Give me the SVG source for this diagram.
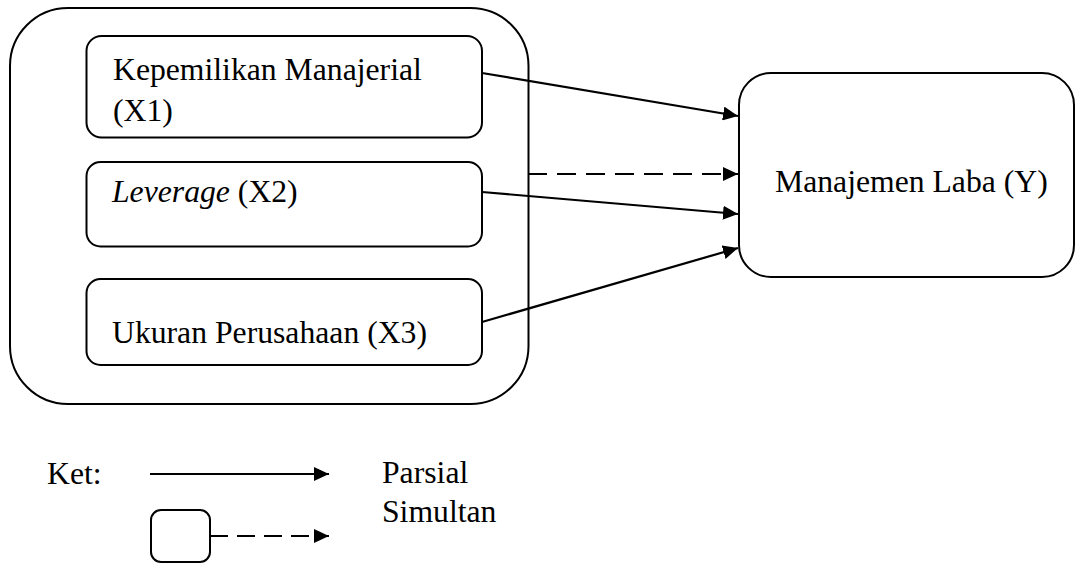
<svg xmlns="http://www.w3.org/2000/svg" width="1076" height="564" viewBox="0 0 1076 564">
<style>
.box{fill:#fff;stroke:#000;stroke-width:2}
.t{font-family:"Liberation Serif","Times New Roman",serif;font-size:31.7px;fill:#000}
.ln{stroke:#000;stroke-width:2.2;fill:none}
.dash{stroke-dasharray:19 10}
</style>
<defs>
<marker id="ah" markerUnits="userSpaceOnUse" markerWidth="16" markerHeight="14" refX="15" refY="7" orient="auto">
<path d="M0,0 L15,7 L0,14 z" fill="#000"/>
</marker>
</defs>
<g id="group-x">
<rect class="box" x="10" y="8" width="518.5" height="396" rx="58" ry="58"/>
</g>
<g id="x1">
<rect class="box" x="86.5" y="36" width="395.5" height="101.5" rx="15" ry="15"/>
<text class="t" x="113" y="80">Kepemilikan Manajerial</text>
<text class="t" x="113" y="121">(X1)</text>
</g>
<g id="x2">
<rect class="box" x="86.5" y="162" width="395.5" height="84.5" rx="14" ry="14"/>
<text class="t" x="112" y="202"><tspan font-style="italic">Leverage</tspan> (X2)</text>
</g>
<g id="x3">
<rect class="box" x="86.5" y="279" width="395.5" height="86" rx="14" ry="14"/>
<text class="t" x="112" y="343">Ukuran Perusahaan (X3)</text>
</g>
<g id="y">
<rect class="box" x="739" y="73" width="335" height="204" rx="32" ry="32"/>
<text class="t" x="775" y="192">Manajemen Laba (Y)</text>
</g>
<g id="connectors">
<line class="ln" x1="482" y1="73" x2="738" y2="116" marker-end="url(#ah)"/>
<line class="ln dash" x1="528" y1="174" x2="738" y2="174" marker-end="url(#ah)"/>
<line class="ln" x1="482" y1="192" x2="738" y2="214" marker-end="url(#ah)"/>
<line class="ln" x1="482" y1="322" x2="738" y2="248" marker-end="url(#ah)"/>
</g>
<g id="legend">
<text class="t" x="47" y="484">Ket:</text>
<line class="ln" x1="150" y1="474" x2="329" y2="474" marker-end="url(#ah)"/>
<rect class="box" x="151" y="510" width="59" height="52" rx="10" ry="10"/>
<line class="ln" x1="210" y1="536" x2="329" y2="536" stroke-dasharray="18 9" marker-end="url(#ah)"/>
<text class="t" x="382" y="483">Parsial</text>
<text class="t" x="382" y="522">Simultan</text>
</g>
</svg>
